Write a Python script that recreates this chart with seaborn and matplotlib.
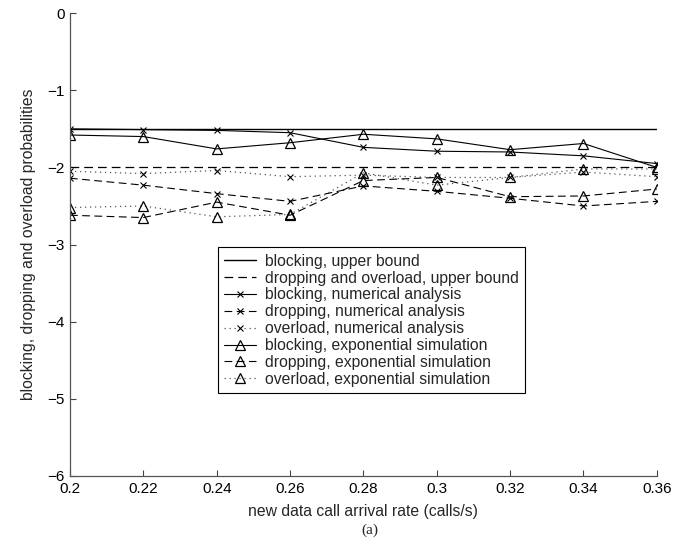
import matplotlib
matplotlib.use("Agg")
import matplotlib.pyplot as plt
import seaborn as sns
import numpy as np
import pandas as pd

sns.set_style("ticks")
plt.rcParams['font.family'] = ['Liberation Sans', 'DejaVu Sans']

rates = [0.20, 0.22, 0.24, 0.26, 0.28, 0.30, 0.32, 0.34, 0.36]
blocking_bound = [-1.5] * 9
dropping_bound = [-2.0] * 9
blocking_num = [-1.50, -1.51, -1.52, -1.55, -1.74, -1.79, -1.80, -1.85, -1.95]
dropping_num = [-2.14, -2.23, -2.34, -2.44, -2.24, -2.31, -2.40, -2.50, -2.44]
overload_num = [-2.05, -2.08, -2.04, -2.12, -2.10, -2.13, -2.13, -2.06, -2.12]
blocking_sim = [-1.58, -1.60, -1.76, -1.68, -1.57, -1.63, -1.77, -1.69, -2.00]
dropping_sim = [-2.62, -2.65, -2.45, -2.62, -2.17, -2.13, -2.38, -2.37, -2.28]
overload_sim = [-2.52, -2.50, -2.64, -2.61, -2.07, -2.23, -2.13, -2.02, -2.02]

xticks = [0.2, 0.22, 0.24, 0.26, 0.28, 0.3, 0.32, 0.34, 0.36]
xticklabels = ["0.2", "0.22", "0.24", "0.26", "0.28", "0.3", "0.32", "0.34", "0.36"]
yticks = [0, -1, -2, -3, -4, -5, -6]
yticklabels = ["0", "\u22121", "\u22122", "\u22123", "\u22124", "\u22125", "\u22126"]

fig = plt.figure(figsize=(6.84, 5.47), dpi=100)
ax = fig.add_axes([0.1023, 0.1298, 0.858, 0.8462])

series = [
    ("blocking, upper bound", blocking_bound, "-", None, 1.0, "black"),
    ("dropping and overload, upper bound", dropping_bound, (0, (7, 4)), None, 0.9, "black"),
    ("blocking, numerical analysis", blocking_num, "-", "x", 0.8, "black"),
    ("dropping, numerical analysis", dropping_num, (0, (7, 4)), "x", 0.8, "black"),
    ("overload, numerical analysis", overload_num, (0, (1, 3)), "x", 0.9, "#555555"),
    ("blocking, exponential simulation", blocking_sim, "-", "^", 0.8, "black"),
    ("dropping, exponential simulation", dropping_sim, (0, (7, 4)), "^", 0.8, "black"),
    ("overload, exponential simulation", overload_sim, (0, (1, 3)), "^", 0.9, "#555555"),
]

for label, vals, ls, mk, lw, col in series:
    kw = dict(x=rates, y=vals, ax=ax, label=label, color=col, linewidth=lw,
              linestyle=ls, sort=False)
    if mk == "x":
        kw.update(marker="x", markersize=5, markeredgewidth=0.8,
                  markeredgecolor="black")
    elif mk == "^":
        kw.update(marker="^", markersize=7, markerfacecolor="none",
                  markeredgewidth=0.9, markeredgecolor="black")
    sns.lineplot(**kw)

ax.set_xlim(0.2, 0.36)
ax.set_ylim(-6, 0)
ax.set_xticks(xticks)
ax.set_xticklabels(xticklabels)
ax.set_yticks(yticks)
ax.set_yticklabels(yticklabels)
ax.tick_params(direction="in", length=4, width=0.8, colors="#444444",
               labelcolor="black", labelsize=11, pad=4)
for s in ["top", "right"]:
    ax.spines[s].set_visible(False)
for s in ["left", "bottom"]:
    ax.spines[s].set_color("#555555")
    ax.spines[s].set_linewidth(0.9)

ax.set_xlabel("new data call arrival rate (calls/s)", fontsize=11.3, labelpad=6)
ax.set_ylabel("blocking, dropping and overload probabilities", fontsize=11.3, labelpad=8)

leg = ax.legend(loc="lower left", bbox_to_anchor=(0.252, 0.179), fontsize=11.3,
                frameon=True, fancybox=False, edgecolor="black", framealpha=1,
                handlelength=2.0, handletextpad=0.6, labelspacing=0.12,
                borderpad=0.4, borderaxespad=0)
leg.get_frame().set_linewidth(0.8)

fig.text(0.5413, 0.031, "(a)", ha="center", va="center", fontsize=11,
         family=["Liberation Serif", "DejaVu Serif"])

fig.savefig("out.png", dpi=100)
